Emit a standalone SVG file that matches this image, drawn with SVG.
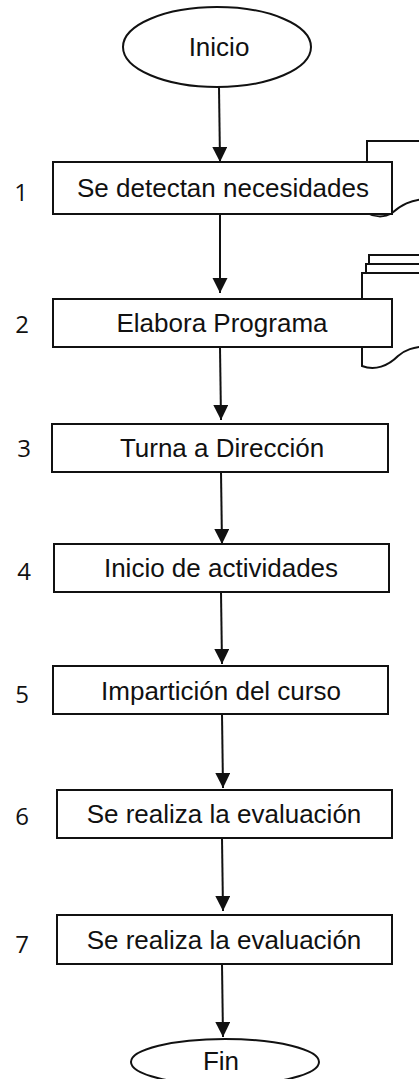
<svg xmlns="http://www.w3.org/2000/svg" width="419" height="1079" viewBox="0 0 419 1079">
<style>
.shape{fill:#fff;stroke:#111;stroke-width:2}
.lbl{font-family:"Liberation Sans",Arial,sans-serif;font-size:26px;fill:#111;text-anchor:middle}
.num{font-family:"Open Sans","Liberation Sans",sans-serif;font-size:24px;fill:#111;text-anchor:middle}
.conn{stroke:#111;stroke-width:2;fill:none;marker-end:url(#ah)}
</style>
<defs>
<marker id="ah" markerUnits="userSpaceOnUse" markerWidth="16" markerHeight="16" refX="15" refY="7.5" orient="auto">
<path d="M0,0 L15,7.5 L0,15 Z" fill="#111"/>
</marker>
</defs>
<rect width="419" height="1079" fill="#fff"/>
<g id="connectors">
<line class="conn" x1="219" y1="87" x2="220" y2="162"/>
<line class="conn" x1="220" y1="214" x2="220" y2="293"/>
<line class="conn" x1="220" y1="347" x2="221" y2="420"/>
<line class="conn" x1="221" y1="472" x2="222" y2="544"/>
<line class="conn" x1="221" y1="592" x2="222" y2="664"/>
<line class="conn" x1="222" y1="714" x2="223" y2="788"/>
<line class="conn" x1="222" y1="838" x2="223" y2="911"/>
<line class="conn" x1="222" y1="964" x2="223" y2="1037"/>
</g>
<g id="start">
<ellipse class="shape" cx="217" cy="47" rx="94" ry="40"/>
<text class="lbl" x="219" y="56">Inicio</text>
</g>
<g id="doc1">
<path class="shape" d="M367,141 H430 V199 C 410,199 400,206 392,213 C 384,218 374,217 367,213 Z"/>
</g>
<g id="step1">
<rect class="shape" x="53" y="162" width="339" height="52"/>
<text class="lbl" x="223" y="197">Se detectan necesidades</text>
<text class="num" x="21" y="201">1</text>
</g>
<g id="doc2">
<rect class="shape" x="369" y="255" width="70" height="60"/>
<rect class="shape" x="366" y="264" width="70" height="60"/>
<path class="shape" d="M362,273 H430 V346 C 412,347 405,350 398,356 C 388,366 375,371 362,366 Z"/>
</g>
<g id="step2">
<rect class="shape" x="53" y="299" width="339" height="48"/>
<text class="lbl" x="222" y="332">Elabora Programa</text>
<text class="num" x="22" y="333">2</text>
</g>
<g id="step3">
<rect class="shape" x="52" y="424" width="336" height="48"/>
<text class="lbl" x="222" y="457">Turna a Dirección</text>
<text class="num" x="24" y="457">3</text>
</g>
<g id="step4">
<rect class="shape" x="54" y="544" width="335" height="48"/>
<text class="lbl" x="221" y="577">Inicio de actividades</text>
<text class="num" x="24" y="580">4</text>
</g>
<g id="step5">
<rect class="shape" x="53" y="666" width="335" height="48"/>
<text class="lbl" x="221" y="700">Impartición del curso</text>
<text class="num" x="22" y="703">5</text>
</g>
<g id="step6">
<rect class="shape" x="57" y="790" width="335" height="48"/>
<text class="lbl" x="224" y="823">Se realiza la evaluación</text>
<text class="num" x="22" y="825">6</text>
</g>
<g id="step7">
<rect class="shape" x="57" y="915" width="335" height="49"/>
<text class="lbl" x="224" y="949">Se realiza la evaluación</text>
<text class="num" x="22" y="953">7</text>
</g>
<g id="end">
<ellipse class="shape" cx="225" cy="1062" rx="94" ry="23"/>
<text class="lbl" x="221" y="1070">Fin</text>
</g>
</svg>
